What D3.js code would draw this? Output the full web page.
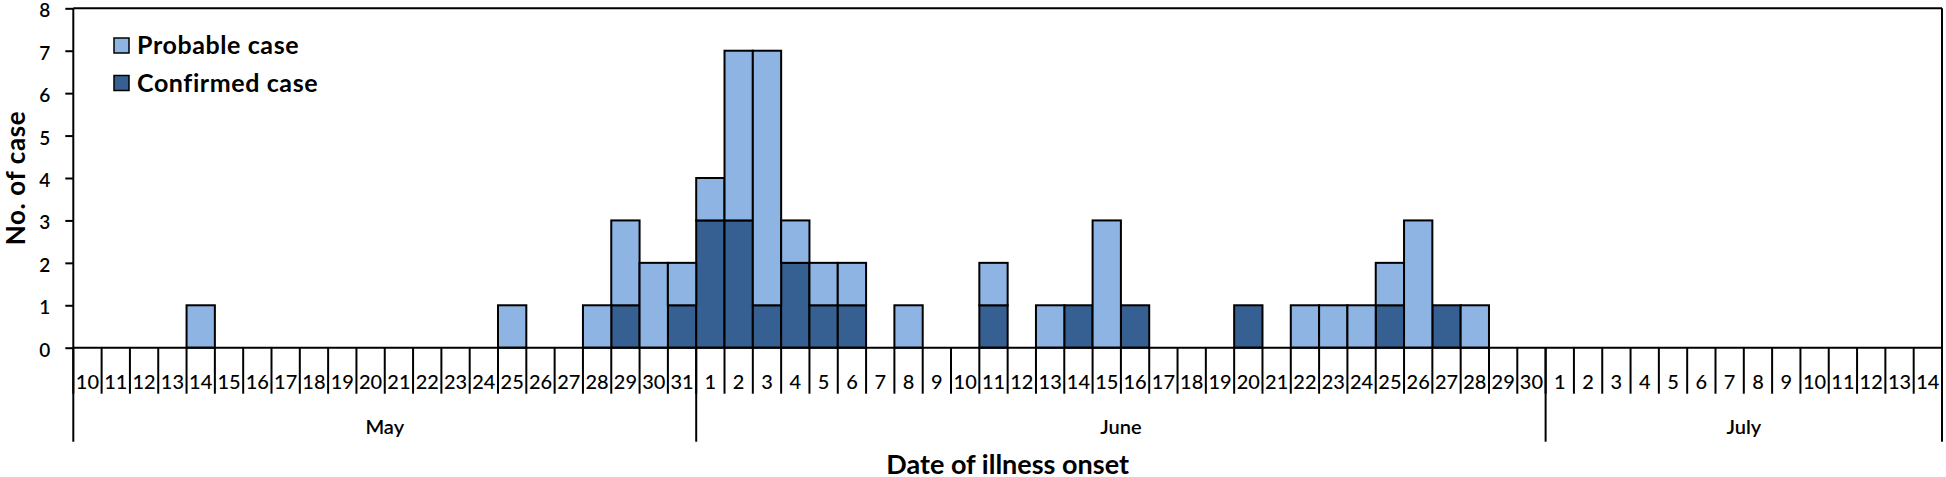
<!DOCTYPE html>
<html>
<head>
<meta charset="utf-8">
<script src="https://cdn.jsdelivr.net/npm/d3@7"></script>
<style>
  html, body { margin: 0; padding: 0; background: #fff; }
  svg { display: block; font-family: Lato, "Open Sans", sans-serif; }
</style>
</head>
<body>
<svg id="chart" width="1946" height="477"></svg>
<script>
// ---- data ----
const dayLabels = [
  "10","11","12","13","14","15","16","17","18","19","20","21","22","23","24","25","26","27","28","29","30","31",
  "1","2","3","4","5","6","7","8","9","10","11","12","13","14","15","16","17","18","19","20","21","22","23","24","25","26","27","28","29","30",
  "1","2","3","4","5","6","7","8","9","10","11","12","13","14"
];
const months = ["May", "June", "July"];
const monthStart = [0, 22, 52];   // index of first day of each month
const confirmed = [
  0,0,0,0,0,0,0,0,0,0,0,0,0,0,0,0,0,0,0,1,0,1,
  3,3,1,2,1,1,0,0,0,0,1,0,0,1,0,1,0,0,0,1,0,0,0,0,1,0,1,0,0,0,
  0,0,0,0,0,0,0,0,0,0,0,0,0,0
];
const probable = [
  0,0,0,0,1,0,0,0,0,0,0,0,0,0,0,1,0,0,1,2,2,1,
  1,4,6,1,1,1,0,1,0,0,1,0,1,0,3,0,0,0,0,0,0,1,1,1,1,3,0,1,0,0,
  0,0,0,0,0,0,0,0,0,0,0,0,0,0
];
const yTicks = [0,1,2,3,4,5,6,7,8];
const seriesNames = ["Probable case", "Confirmed case"];
const colors = { confirmed: "#376092", probable: "#8DB4E2" };

// ---- layout ----
const svg = d3.select("#chart");
const L = 73.3, R = 1942, T = 8.3, B = 347.7, BOT = 441.7;

const idx = dayLabels.map((d, i) => i);
const x = d3.scaleBand().domain(idx).range([L, R]).paddingInner(0).paddingOuter(0);
const y = d3.scaleLinear().domain([0, 8]).range([B, T]);

const table = idx.map(i => ({ i, confirmed: confirmed[i], probable: probable[i] }));
const stacked = d3.stack().keys(["confirmed", "probable"])(table);

// bars
svg.append("g").selectAll("g")
  .data(stacked).join("g")
  .attr("fill", s => colors[s.key])
  .selectAll("rect")
  .data(s => s.filter(d => d[1] - d[0] > 0))
  .join("rect")
  .attr("x", d => x(d.data.i))
  .attr("width", x.bandwidth())
  .attr("y", d => y(d[1]))
  .attr("height", d => y(d[0]) - y(d[1]))
  .attr("stroke", "#000")
  .attr("stroke-width", 2);

// y axis
const yAxis = svg.append("g")
  .attr("transform", `translate(${L},0)`)
  .call(d3.axisLeft(y).tickValues(yTicks).tickFormat(d3.format("d")).tickSize(8).tickPadding(15));
yAxis.select(".domain").remove();
yAxis.selectAll(".tick line").attr("stroke", "#000").attr("stroke-width", 2);
yAxis.selectAll(".tick text").attr("font-size", 19).attr("font-weight", 600).attr("fill", "#000")
  .attr("dy", "0.45em")
  .attr("font-family", "Lato, sans-serif");

// frame lines
const frame = svg.append("g").attr("stroke", "#000").attr("stroke-width", 2).attr("fill", "none");
frame.append("line").attr("x1", L).attr("x2", R).attr("y1", T).attr("y2", T);
frame.append("line").attr("x1", L).attr("x2", R).attr("y1", B).attr("y2", B);

// day boundary ticks
const boundaries = idx.map(i => x(i)).concat([x.range()[1]]);
svg.append("g").selectAll("line")
  .data(boundaries).join("line")
  .attr("x1", d => d).attr("x2", d => d)
  .attr("y1", B).attr("y2", B + 46)
  .attr("stroke", "#000").attr("stroke-width", 2);

// month boundary lines (full height down)
const monthEdges = monthStart.map(i => x(i)).concat([x.range()[1]]);
svg.append("g").selectAll("line")
  .data(monthEdges).join("line")
  .attr("x1", d => d).attr("x2", d => d)
  .attr("y1", (d, k) => (k === 0 || k === monthEdges.length - 1) ? T : B)
  .attr("y2", BOT)
  .attr("stroke", "#000").attr("stroke-width", 2);

// day labels
const xAxis = svg.append("g")
  .attr("transform", `translate(0,${B})`)
  .call(d3.axisBottom(x).tickFormat(i => dayLabels[i]).tickSize(0).tickPadding(0));
xAxis.select(".domain").remove();
xAxis.selectAll(".tick text")
  .attr("y", 34).attr("dy", "0.35em")
  .attr("font-size", 20).attr("font-weight", 500).attr("fill", "#000")
  .attr("font-family", "Lato, sans-serif");

// month labels
svg.append("g").selectAll("text")
  .data(months).join("text")
  .attr("x", (m, k) => (x(monthStart[k]) + (k < 2 ? x(monthStart[k + 1]) : x.range()[1])) / 2)
  .attr("y", 427).attr("dy", "0.35em")
  .attr("text-anchor", "middle")
  .attr("font-size", 20).attr("font-weight", 600)
  .text(m => m);

// axis titles
svg.append("text")
  .attr("x", (L + R) / 2).attr("y", 465).attr("dy", "0.35em")
  .attr("text-anchor", "middle")
  .attr("font-size", 27).attr("font-weight", 700)
  .text("Date of illness onset");

svg.append("text")
  .attr("transform", `translate(16,${(T + B) / 2}) rotate(-90)`)
  .attr("dy", "0.35em")
  .attr("text-anchor", "middle")
  .attr("font-size", 26).attr("font-weight", 700)
  .attr("letter-spacing", 0.6)
  .text("No. of case");

// legend
const legend = svg.append("g");
const legendItems = [
  { name: seriesNames[0], color: colors.probable, cy: 45.5 },
  { name: seriesNames[1], color: colors.confirmed, cy: 83 }
];
const lg = legend.selectAll("g").data(legendItems).join("g");
lg.append("rect")
  .attr("x", 114).attr("y", d => d.cy - 7.5)
  .attr("width", 15).attr("height", 15)
  .attr("fill", d => d.color).attr("stroke", "#000").attr("stroke-width", 1.5);
lg.append("text")
  .attr("x", 137).attr("y", d => d.cy).attr("dy", "0.35em")
  .attr("font-size", 25).attr("font-weight", 700)
  .attr("letter-spacing", 0.6)
  .text(d => d.name);
</script>
</body>
</html>
